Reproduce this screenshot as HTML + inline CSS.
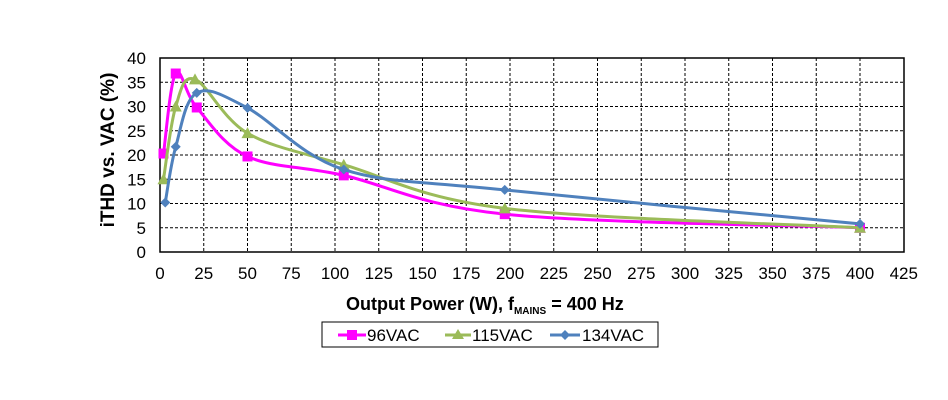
<!DOCTYPE html>
<html><head><meta charset="utf-8"><style>
html,body{margin:0;padding:0;background:#fff;width:948px;height:400px;overflow:hidden}
</style></head><body>
<svg id="s" width="948" height="400" xmlns="http://www.w3.org/2000/svg" font-family="Liberation Sans, sans-serif">
<rect x="0" y="0" width="948" height="400" fill="#fff"/>
<g id="grid"></g>
<rect x="160" y="58" width="744" height="194" fill="none" stroke="#000" stroke-width="1.5"/>
<g id="ticks" font-size="17" fill="#000"></g>
<g id="series"></g>
<text x="114" y="150" font-size="19" font-weight="bold" text-anchor="middle" transform="rotate(-90 114 150)">iTHD vs. VAC (%)</text>
<text x="346" y="310" font-size="18" font-weight="bold">Output Power (W), f<tspan font-size="10" dy="4">MAINS</tspan><tspan dy="-4"> = 400 Hz</tspan></text>
<rect x="322" y="322" width="336" height="25" fill="#fff" stroke="#000" stroke-width="1"/>
<g font-size="17">
<line x1="338" y1="335" x2="366" y2="335" stroke="#ff00ff" stroke-width="3"/><rect x="347" y="330" width="10" height="10" fill="#ff00ff"/><text x="367" y="341">96VAC</text>
<line x1="445" y1="335" x2="471" y2="335" stroke="#9bbb59" stroke-width="3"/><polygon points="458,329 464,339 452,339" fill="#9bbb59"/><text x="472" y="341">115VAC</text>
<line x1="550" y1="335" x2="580" y2="335" stroke="#4f81bd" stroke-width="3"/><polygon points="565,330 570,335 565,340 560,335" fill="#4f81bd"/><text x="582" y="341">134VAC</text>
</g>
</svg>
<script>
var NS="http://www.w3.org/2000/svg";
function X(v){return 160+v*1.75}function Y(v){return 252-v*4.85}
function el(t,a,p,txt){var e=document.createElementNS(NS,t);for(var k in a)e.setAttribute(k,a[k]);if(txt!=null)e.textContent=txt;p.appendChild(e);return e}
var g=document.getElementById('grid'),tk=document.getElementById('ticks'),sr=document.getElementById('series');
for(var v=25;v<425;v+=25)el('line',{x1:X(v),y1:58,x2:X(v),y2:252,stroke:'#000','stroke-width':1,'stroke-dasharray':'3,2'},g);
for(var v=5;v<40;v+=5)el('line',{x1:160,y1:Y(v),x2:904,y2:Y(v),stroke:'#000','stroke-width':1,'stroke-dasharray':'3,2'},g);
for(var v=0;v<=425;v+=25)el('text',{x:X(v),y:279,'text-anchor':'middle'},tk,String(v));
for(var v=0;v<=40;v+=5)el('text',{x:146,y:Y(v)+6,'text-anchor':'end'},tk,String(v));
var S=[
{c:'#ff00ff',m:'sq',d:[[2,20.3],[9,36.8],[21,29.8],[50,19.7],[105,15.8],[197,7.8],[400,5]]},
{c:'#9bbb59',m:'tri',d:[[2,15],[9,30],[20,35.6],[50,24.5],[105,18],[197,9],[400,5]]},
{c:'#4f81bd',m:'dia',d:[[3,10.2],[9,21.7],[21,32.8],[50,29.7],[105,17],[197,12.8],[400,5.8]]}];
S.forEach(function(s){
 var p=s.d.map(function(q){return[X(q[0]),Y(q[1])]});
 var d='M'+p[0][0]+','+p[0][1];
 for(var i=0;i<p.length-1;i++){
  var p0=p[i-1]||p[i],p1=p[i],p2=p[i+1],p3=p[i+2]||p2;
  var c1=[p1[0]+(p2[0]-p0[0])/6,p1[1]+(p2[1]-p0[1])/6],c2=[p2[0]-(p3[0]-p1[0])/6,p2[1]-(p3[1]-p1[1])/6];
  d+=' C'+c1+' '+c2+' '+p2;}
 el('path',{d:d,fill:'none',stroke:s.c,'stroke-width':3},sr);
 p.forEach(function(q){var x=q[0],y=q[1];
  if(s.m=='sq')el('rect',{x:x-5,y:y-5,width:10,height:10,fill:s.c},sr);
  else if(s.m=='tri')el('polygon',{points:x+','+(y-6)+' '+(x+6)+','+(y+5)+' '+(x-6)+','+(y+5),fill:s.c},sr);
  else el('polygon',{points:x+','+(y-5)+' '+(x+5)+','+y+' '+x+','+(y+5)+' '+(x-5)+','+y,fill:s.c},sr);});
});
</script>
</body></html>
